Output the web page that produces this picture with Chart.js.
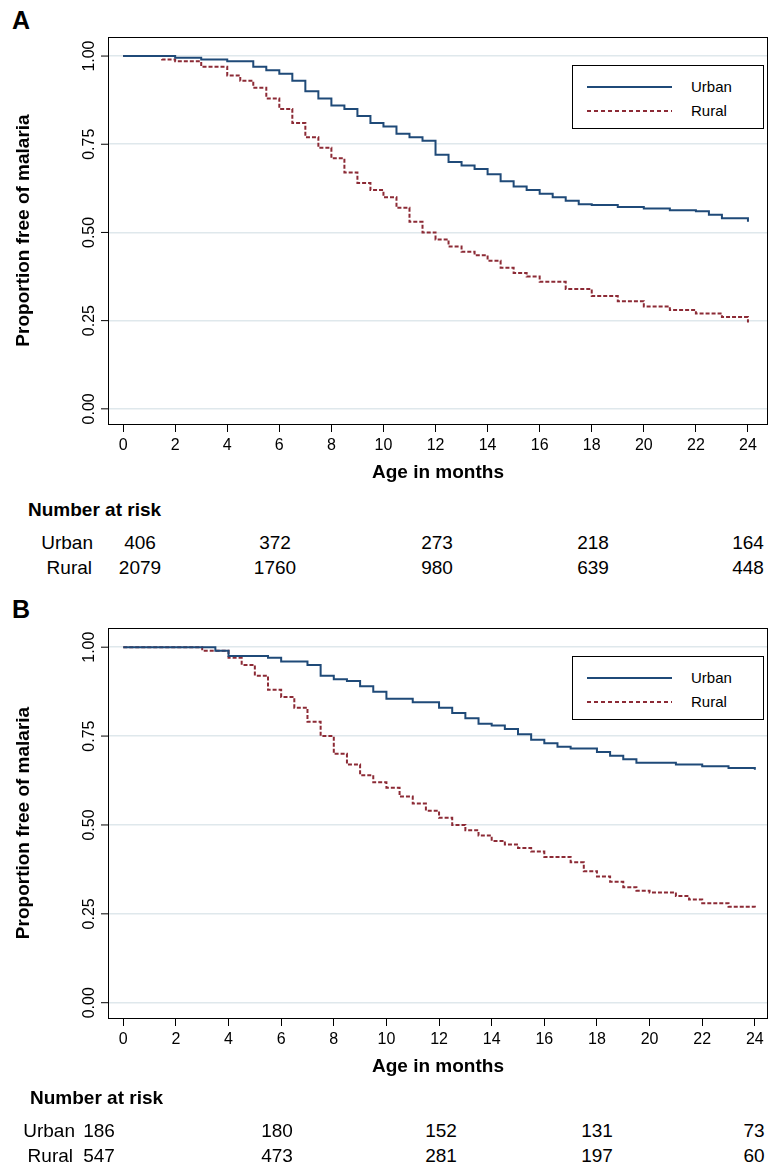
<!DOCTYPE html>
<html><head><meta charset="utf-8">
<script src="https://cdn.jsdelivr.net/npm/chart.js@4"></script>
<style>
body{margin:0;width:772px;height:1166px;position:relative;background:#fff;font-family:"Liberation Sans",Arial,sans-serif;overflow:hidden}
canvas{position:absolute;left:0}
.t{position:absolute;font-size:19px;color:#000;white-space:nowrap}
.c{transform:translateX(-50%)}
.r{transform:translateX(-100%)}
.b{font-weight:bold}
.lg{position:absolute;border:1px solid #000;background:#fff;font-size:15px}
.lg div{position:absolute;left:118px}
.lg svg{position:absolute;left:14px}
</style></head><body>
<div class="t b" style="left:12px;top:6px;font-size:25px">A</div>
<div class="t b" style="left:12px;top:595px;font-size:25px">B</div>
<div id="wA" style="position:absolute;left:0;top:0;width:772px;height:490px"><canvas id="cA"></canvas></div>
<div id="wB" style="position:absolute;left:0;top:590px;width:772px;height:500px"><canvas id="cB"></canvas></div>
<div class="lg" style="left:572px;top:65px;width:190px;height:62px">
<svg width="100" height="62"><line x1="0" y1="21" x2="85" y2="21" stroke="#1f4a78" stroke-width="2"/><line x1="0" y1="45" x2="85" y2="45" stroke="#8c2a35" stroke-width="2" stroke-dasharray="4,3"/></svg>
<div style="top:12px">Urban</div><div style="top:36px">Rural</div></div>
<div class="lg" style="left:572px;top:656px;width:190px;height:62px">
<svg width="100" height="62"><line x1="0" y1="21" x2="85" y2="21" stroke="#1f4a78" stroke-width="2"/><line x1="0" y1="45" x2="85" y2="45" stroke="#8c2a35" stroke-width="2" stroke-dasharray="4,3"/></svg>
<div style="top:12px">Urban</div><div style="top:36px">Rural</div></div>
<div id="risk"></div>
<script>
const xTicks=[0,2,4,6,8,10,12,14,16,18,20,22,24];
const yTicks=[0,0.25,0.5,0.75,1];
const urbanA=[[0,1],[1.5,1],[2,0.995],[3,0.99],[4,0.985],[5,0.97],[5.5,0.96],[6,0.95],[6.5,0.93],[7,0.9],[7.5,0.88],[8,0.86],[8.5,0.85],[9,0.83],[9.5,0.81],[10,0.8],[10.5,0.78],[11,0.77],[11.5,0.76],[12,0.72],[12.5,0.70],[13,0.69],[13.5,0.68],[14,0.665],[14.5,0.645],[15,0.63],[15.5,0.62],[16,0.61],[16.5,0.60],[17,0.59],[17.5,0.58],[18,0.578],[19,0.572],[20,0.568],[21,0.563],[22,0.56],[22.5,0.55],[23,0.54],[24,0.53]];
const ruralA=[[0,1],[1,1],[1.5,0.99],[2,0.985],[3,0.97],[4,0.945],[4.5,0.93],[5,0.91],[5.5,0.88],[6,0.85],[6.5,0.81],[7,0.77],[7.5,0.74],[8,0.71],[8.5,0.67],[9,0.64],[9.5,0.62],[10,0.60],[10.5,0.57],[11,0.53],[11.5,0.50],[12,0.48],[12.5,0.46],[13,0.445],[13.5,0.435],[14,0.42],[14.5,0.40],[15,0.385],[15.5,0.375],[16,0.36],[17,0.34],[18,0.32],[19,0.305],[20,0.29],[21,0.28],[22,0.27],[23,0.26],[24,0.245]];
const urbanB=[[0,1],[3.3,1],[3.5,0.99],[4,0.975],[5,0.975],[5.5,0.97],[6,0.96],[7,0.95],[7.5,0.92],[8,0.91],[8.5,0.905],[9,0.89],[9.5,0.875],[10,0.855],[11,0.845],[12,0.83],[12.5,0.815],[13,0.80],[13.5,0.785],[14,0.78],[14.5,0.77],[15,0.755],[15.5,0.74],[16,0.73],[16.5,0.72],[17,0.715],[18,0.705],[18.5,0.695],[19,0.685],[19.5,0.675],[20,0.675],[21,0.67],[22,0.665],[23,0.66],[24,0.655]];
const ruralB=[[0,1],[2,1],[3,0.99],[4,0.97],[4.5,0.95],[5,0.92],[5.5,0.88],[6,0.86],[6.5,0.83],[7,0.79],[7.5,0.75],[8,0.7],[8.5,0.67],[9,0.64],[9.5,0.62],[10,0.605],[10.5,0.58],[11,0.56],[11.5,0.54],[12,0.52],[12.5,0.50],[13,0.485],[13.5,0.47],[14,0.455],[14.5,0.445],[15,0.435],[15.5,0.425],[16,0.41],[17,0.395],[17.5,0.37],[18,0.355],[18.5,0.34],[19,0.325],[19.5,0.315],[20,0.31],[21,0.30],[21.5,0.29],[22,0.28],[23,0.27],[24,0.265]];
const riskTimes=[0,6,12,18,24];
const riskUrbanA=[406,372,273,218,164], riskRuralA=[2079,1760,980,639,448];
const riskUrbanB=[186,180,152,131,73], riskRuralB=[547,473,281,197,60];

const F='"Liberation Sans",Arial,sans-serif';
const deco={id:'deco',afterDraw(c){const a=c.chartArea,x=c.ctx,y=c.scales.y;
 x.save();x.strokeStyle='#000';x.lineWidth=1;x.strokeRect(a.left+0.5,a.top+0.5,a.right-a.left-1,a.bottom-a.top);
 x.font='16px '+F;x.fillStyle='#000';x.textAlign='center';x.textBaseline='bottom';
 yTicks.forEach(v=>{const p=y.getPixelForValue(v);x.beginPath();x.moveTo(a.left,p);x.lineTo(a.left-7,p);x.stroke();
  x.save();x.translate(a.left-10,p);x.rotate(-Math.PI/2);x.fillText(v.toFixed(2),0,0);x.restore();});
 x.restore();}};
function mk(id,u,r,xmax,padTop,padBottom){
 return new Chart(document.getElementById(id),{type:'line',
 data:{datasets:[
  {data:u.map(p=>({x:p[0],y:p[1]})),borderColor:'#1f4a78',borderWidth:2,stepped:'before',pointRadius:0},
  {data:r.map(p=>({x:p[0],y:p[1]})),borderColor:'#8c2a35',borderWidth:2,borderDash:[4,2],stepped:'before',pointRadius:0}]},
 options:{animation:false,responsive:true,maintainAspectRatio:false,
  layout:{padding:{top:padTop,right:4,bottom:padBottom,left:12}},
  plugins:{legend:{display:false},tooltip:{enabled:false}},
  scales:{
   x:{type:'linear',min:-0.58,max:xmax,afterBuildTicks(s){s.ticks=xTicks.map(v=>({value:v}));},
    grid:{drawOnChartArea:false,tickLength:8,color:'#000'},border:{display:false},
    ticks:{font:{size:16,family:F},color:'#000',padding:4,maxRotation:0,autoSkip:false},
    title:{display:true,text:'Age in months',font:{size:19,weight:'bold',family:F},color:'#000',padding:{top:2,bottom:0}}},
   y:{min:-0.043,max:1.054,afterBuildTicks(s){s.ticks=yTicks.map(v=>({value:v}));},afterFit(s){s.width=96;},
    grid:{color:'#dfe8ec',lineWidth:1.5,drawTicks:false},border:{display:false},
    ticks:{display:false},
    title:{display:true,text:'Proportion free of malaria',font:{size:19,weight:'bold',family:F},color:'#000',padding:{top:0,bottom:48}}}}},
 plugins:[deco]});}
mk('cA',urbanA,ruralA,24.77,37,6);
mk('cB',urbanB,ruralB,24.5,38,12);

const R=document.getElementById('risk');
function txt(s,l,t,cls){const d=document.createElement('div');d.className='t '+cls;d.textContent=s;d.style.left=l+'px';d.style.top=t+'px';R.appendChild(d);}
function risk(top,cols,u,r,ux,rx,hx){
 txt('Number at risk',hx,top,'b');
 txt('Urban',ux,top+33,'r');txt('Rural',rx,top+58,'r');
 riskTimes.forEach((t,i)=>{txt(u[i],cols[i],top+33,'c');txt(r[i],cols[i],top+58,'c');});}
risk(499,[140,275,437,593,748],riskUrbanA,riskRuralA,93,92,28);
risk(1087,[99,277,441,597,754],riskUrbanB,riskRuralB,75,73,30);
</script></body></html>
